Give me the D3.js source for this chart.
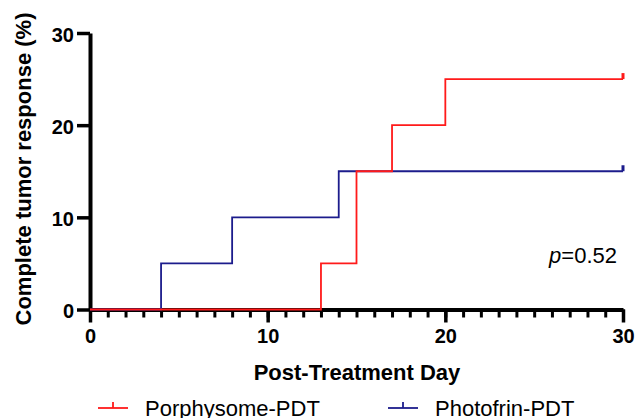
<!DOCTYPE html>
<html lang="en">
<head>
    <meta charset="UTF-8">
    <title>Complete tumor response</title>
    <script src="https://d3js.org/d3.v7.min.js"></script>
    <style>
        body { margin: 0; background: #fff; }
        text { font-family: "Liberation Sans", Arial, Helvetica, sans-serif; }
        .tick text { font-size: 20px; font-weight: bold; fill: #000; }
        .axis_title { font-size: 22px; font-weight: bold; }
        .legend_text { font-size: 22px; }
    </style>
</head>
<body>
<svg width="636" height="418"></svg>
<script>

    // step data
    const porphysomeDays = [0, 13, 15, 17, 20, 30];
    const porphysomeResp = [0, 5, 15, 20, 25, 25];
    const photofrinDays  = [0, 4, 8, 14, 30];
    const photofrinResp  = [0, 5, 10, 15, 15];

    const seriesNames  = ["Porphysome-PDT", "Photofrin-PDT"];
    const seriesColors = ["#ff1a1a", "#1c1c8c"];
    const majorTicks   = [0, 10, 20, 30];
    const pLabel       = "0.52";

    let svg = d3.select("svg");

    let x = d3.scaleLinear().domain([0, 30]).range([90, 623]);
    let y = d3.scaleLinear().domain([0, 30]).range([309.5, 33]);

    // x axis: minor ticks each day, bigger ones every 10
    let xMinor = svg.append("g")
        .attr("transform", "translate(0," + y(0) + ")")
        .call(d3.axisBottom(x).tickValues(d3.range(0, 31, 1)).tickSize(8).tickFormat(""));
    xMinor.select(".domain").remove();
    xMinor.selectAll(".tick line").attr("stroke-width", 3);

    let xMajor = svg.append("g")
        .attr("transform", "translate(0," + y(0) + ")")
        .call(d3.axisBottom(x).tickValues(majorTicks).tickSize(13).tickPadding(6).tickSizeOuter(0));
    xMajor.select(".domain").attr("stroke-width", 4);
    xMajor.selectAll(".tick line").attr("stroke-width", 3.5);

    let yAxis = svg.append("g")
        .attr("transform", "translate(" + x(0) + ",0)")
        .call(d3.axisLeft(y).tickValues(majorTicks).tickSize(13).tickPadding(3).tickSizeOuter(0));
    yAxis.select(".domain").attr("stroke-width", 4);
    yAxis.selectAll(".tick line").attr("stroke-width", 3.5);
    yAxis.selectAll(".tick text").attr("dy", "0.4em");

    // step lines
    let step = d3.line()
        .x(d => x(d[0]))
        .y(d => y(d[1]))
        .curve(d3.curveStepAfter);

    let series = [
        d3.zip(photofrinDays, photofrinResp),
        d3.zip(porphysomeDays, porphysomeResp)
    ];
    let colorsDrawn = [seriesColors[1], seriesColors[0]];

    series.forEach(function (pts, i) {
        svg.append("path")
            .attr("d", step(pts))
            .attr("fill", "none")
            .attr("stroke", colorsDrawn[i])
            .attr("stroke-width", 1.8);
        // censor mark at the end
        let last = pts[pts.length - 1];
        svg.append("line")
            .attr("x1", x(last[0])).attr("x2", x(last[0]))
            .attr("y1", y(last[1])).attr("y2", y(last[1]) - 6)
            .attr("stroke", colorsDrawn[i])
            .attr("stroke-width", 3);
    });

    svg.append("text")
        .attr("x", 617).attr("y", 263)
        .attr("text-anchor", "end")
        .attr("class", "legend_text")
        .html('<tspan font-style="italic">p</tspan>=' + pLabel);

    // axis titles
    svg.append("text")
        .attr("class", "axis_title")
        .attr("text-anchor", "middle")
        .attr("x", 357).attr("y", 380)
        .text("Post-Treatment Day");

    svg.append("text")
        .attr("class", "axis_title")
        .attr("text-anchor", "middle")
        .attr("transform", "translate(31,169) rotate(-90)")
        .text("Complete tumor response (%)");

    // legend
    let legendX = [98, 388];
    seriesNames.forEach(function (name, i) {
        let g = svg.append("g").attr("transform", "translate(" + legendX[i] + ",408)");
        g.append("line").attr("x1", 0).attr("x2", 30).attr("y1", 0).attr("y2", 0)
            .attr("stroke", seriesColors[i]).attr("stroke-width", 1.8);
        g.append("line").attr("x1", 15).attr("x2", 15).attr("y1", 0).attr("y2", -6)
            .attr("stroke", seriesColors[i]).attr("stroke-width", 1.8);
        g.append("text").attr("class", "legend_text")
            .attr("x", 47).attr("y", 8)
            .text(name);
    });

</script>
</body>
</html>
